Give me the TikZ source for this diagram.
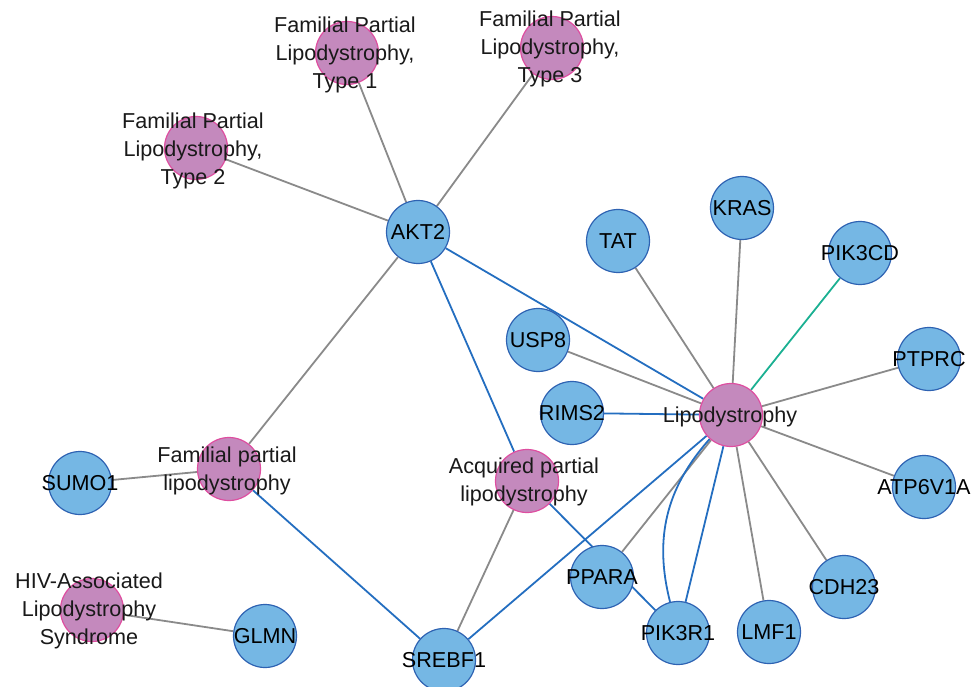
\documentclass[tikz,border=0pt]{standalone}
\usepackage{fontspec}
\setmainfont{Liberation Sans}
\usetikzlibrary{positioning,backgrounds}

\definecolor{geneblue}{RGB}{117,183,228}
\definecolor{geneborder}{RGB}{46,98,178}
\definecolor{diseasepink}{RGB}{196,137,189}
\definecolor{diseaseborder}{RGB}{222,78,160}
\definecolor{linkgray}{RGB}{138,138,138}
\definecolor{linkblue}{RGB}{36,110,192}
\definecolor{linkteal}{RGB}{27,176,146}

\begin{document}
\begin{tikzpicture}[x=1pt, y=-1pt,
  gene/.style={draw=geneborder, line width=1.2pt, fill=geneblue, circle, minimum size=63pt, inner sep=0pt, font=\fontsize{21.6}{28}\selectfont},
  disease/.style={draw=diseaseborder, line width=1.2pt, fill=diseasepink, circle, minimum size=63pt, inner sep=0pt},
  dtext/.style={align=center, inner sep=0pt, text=black!90, font=\fontsize{21.6}{28}\selectfont},
  grayline/.style={draw=linkgray, line width=1.8pt},
  blueline/.style={draw=linkblue, line width=1.8pt},
  tealline/.style={draw=linkteal, line width=1.8pt}]
\useasboundingbox (0,0) rectangle (972,687);

% Disease nodes
\node[disease] (fpl1) at (347,53) {};
\node[disease] (fpl3) at (552,48) {};
\node[disease] (fpl2) at (196,148) {};
\node[disease] (lipo) at (731,415) {};
\node[disease] (apl) at (527,481) {};
\node[disease] (fpl) at (229,469) {};
\node[disease] (hiv) at (92,610) {};

% Disease labels
\node[dtext] (fpl1txt) at (345,55) {Familial Partial\\Lipodystrophy,\\Type 1};
\node[dtext] (fpl3txt) at (550,49) {Familial Partial\\Lipodystrophy,\\Type 3};
\node[dtext] (fpl2txt) at (193,151) {Familial Partial\\Lipodystrophy,\\Type 2};
\node[dtext] (lipotxt) at (730,417) {Lipodystrophy};
\node[dtext] (apltxt) at (524,482) {Acquired partial\\lipodystrophy};
\node[dtext] (fpltxt) at (227,471) {Familial partial\\lipodystrophy};
\node[dtext] (hivtxt) at (89,611) {HIV-Associated\\Lipodystrophy\\Syndrome};

% Gene nodes
\node[gene] (akt2) at (418,232) {\makebox[0pt]{AKT2}};
\node[gene] (tat) at (618,241) {\makebox[0pt]{TAT}};
\node[gene] (kras) at (742,208) {\makebox[0pt]{KRAS}};
\node[gene] (pik3cd) at (860,253) {\makebox[0pt]{PIK3CD}};
\node[gene] (usp8) at (538,340) {\makebox[0pt]{USP8}};
\node[gene] (ptprc) at (929,359) {\makebox[0pt]{PTPRC}};
\node[gene] (rims2) at (572,413) {\makebox[0pt]{RIMS2}};
\node[gene] (atp6v1a) at (924,487) {\makebox[0pt]{ATP6V1A}};
\node[gene] (cdh23) at (844,587) {\makebox[0pt]{CDH23}};
\node[gene] (lmf1) at (769,632) {\makebox[0pt]{LMF1}};
\node[gene] (pik3r1) at (678,633) {\makebox[0pt]{PIK3R1}};
\node[gene] (ppara) at (602,577) {\makebox[0pt]{PPARA}};
\node[gene] (srebf1) at (444,660) {\makebox[0pt]{SREBF1}};
\node[gene] (sumo1) at (80,483) {\makebox[0pt]{SUMO1}};
\node[gene] (glmn) at (265,636) {\makebox[0pt]{GLMN}};

% Links
\begin{pgfonlayer}{background}
\draw[grayline] (fpl1) -- (akt2);
\draw[grayline] (fpl3) -- (akt2);
\draw[grayline] (fpl2) -- (akt2);
\draw[grayline] (akt2) -- (fpl);
\draw[grayline] (sumo1) -- (fpl);
\draw[grayline] (hiv) -- (glmn);
\draw[grayline] (apl) -- (srebf1);
\draw[grayline] (tat) -- (lipo);
\draw[grayline] (kras) -- (lipo);
\draw[grayline] (usp8) -- (lipo);
\draw[grayline] (ptprc) -- (lipo);
\draw[grayline] (atp6v1a) -- (lipo);
\draw[grayline] (cdh23) -- (lipo);
\draw[grayline] (lmf1) -- (lipo);
\draw[grayline] (ppara) -- (lipo);
\draw[blueline] (akt2) -- (lipo);
\draw[blueline] (akt2) -- (apl);
\draw[blueline] (rims2) -- (lipo);
\draw[blueline] (fpl) -- (srebf1);
\draw[blueline] (srebf1) -- (lipo);
\draw[blueline] (apl) -- (pik3r1);
\draw[blueline] (lipo) -- (pik3r1);
\draw[blueline] (lipo) to[bend right=28] (pik3r1);
\draw[tealline] (pik3cd) -- (lipo);
\end{pgfonlayer}
\end{tikzpicture}
\end{document}
